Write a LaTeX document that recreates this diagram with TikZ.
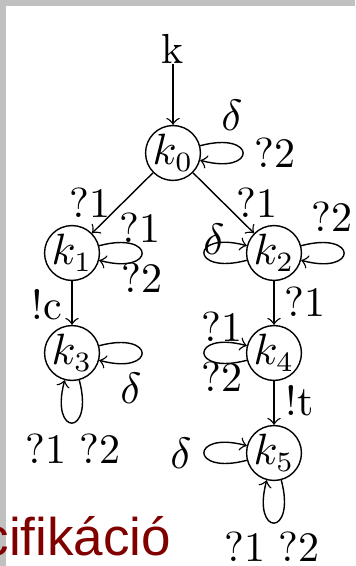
\documentclass[tikz,border=0pt]{standalone}
\usepackage{amsmath}
\usepackage{fontspec}
\newfontfamily\slidefont{Liberation Sans}
\usetikzlibrary{positioning}
\usetikzlibrary{arrows}
\definecolor{framegray}{RGB}{192,192,192}
\definecolor{titlered}{RGB}{128,0,0}
\begin{document}
\begin{tikzpicture}[x=0.25pt,y=-0.25pt,font=\fontsize{10.5}{12.6}\selectfont]
\tikzstyle{state}=[circle, draw, minimum size=13.5pt, inner sep=0pt, line width=0.35pt]
\tikzstyle{connect}=[->, line width=0.35pt]
\tikzstyle{selfloop}=[->, line width=0.35pt, distance=14.75pt]
\tikzstyle{lbl}=[inner sep=0pt]
\useasboundingbox (0,0) rectangle (355,566);
% slide frame and title
\fill[framegray] (0,0) rectangle (355,6);
\fill[framegray] (0,0) rectangle (6,566);
\node[lbl, font=\slidefont\fontsize{13.25}{15}\selectfont, text=titlered, anchor=base east] (title) at (172,555) {cifikáció};

% states
\node[state] (k0) at (173,153) {$k_0$};
\node[state, on grid, below left=25pt and 25.25pt of k0] (k1) {$k_1$};
\node[state, on grid, below right=25pt and 25.25pt of k0] (k2) {$k_2$};
\node[state, on grid, below=25pt of k1] (k3) {$k_3$};
\node[state, on grid, below=25pt of k2] (k4) {$k_4$};
\node[state, on grid, below=25pt of k4] (k5) {$k_5$};
\node[lbl, on grid, above=26pt of k0] (init) {k};

% transitions
\draw[connect] (init) -- (k0);
\draw[connect] (k0) -- (k1);
\draw[connect] (k0) -- (k2);
\draw[connect] (k1) -- (k3);
\draw[connect] (k2) -- (k4);
\draw[connect] (k4) -- (k5);

% self loops
\path (k0) edge[selfloop, out=15, in=-15] (k0);
\path (k1) edge[selfloop, out=15, in=-15] (k1);
\path (k2) edge[selfloop, out=15, in=-15] (k2);
\path (k2) edge[selfloop, out=195, in=165] (k2);
\path (k3) edge[selfloop, out=15, in=-15] (k3);
\path (k3) edge[selfloop, out=-75, in=-105] (k3);
\path (k4) edge[selfloop, out=195, in=165] (k4);
\path (k5) edge[selfloop, out=195, in=165] (k5);
\path (k5) edge[selfloop, out=-75, in=-105] (k5);

% labels
\node[lbl] (l0a) at (232,115) {$\delta$};
\node[lbl] (l0b) at (275,153) {?2};
\node[lbl] (l01) at (90,203) {?1};
\node[lbl] (l02) at (257,203) {?1};
\node[lbl] (l1a) at (140,228) {?1};
\node[lbl] (l1b) at (142,278) {?2};
\node[lbl] (l2a) at (214,239) {$\delta$};
\node[lbl] (l2b) at (332,217) {?2};
\node[lbl] (l13) at (47,305) {!c};
\node[lbl] (l24) at (305,302) {?1};
\node[lbl] (l3a) at (131,388) {$\delta$};
\node[lbl] (l3b) at (73,449) {?1 ?2};
\node[lbl] (l4a) at (222,327) {?1};
\node[lbl] (l4b) at (222,377) {?2};
\node[lbl] (l45) at (300,401) {!t};
\node[lbl] (l5a) at (181,453) {$\delta$};
\node[lbl] (l5b) at (272,547) {?1 ?2};
\end{tikzpicture}
\end{document}
